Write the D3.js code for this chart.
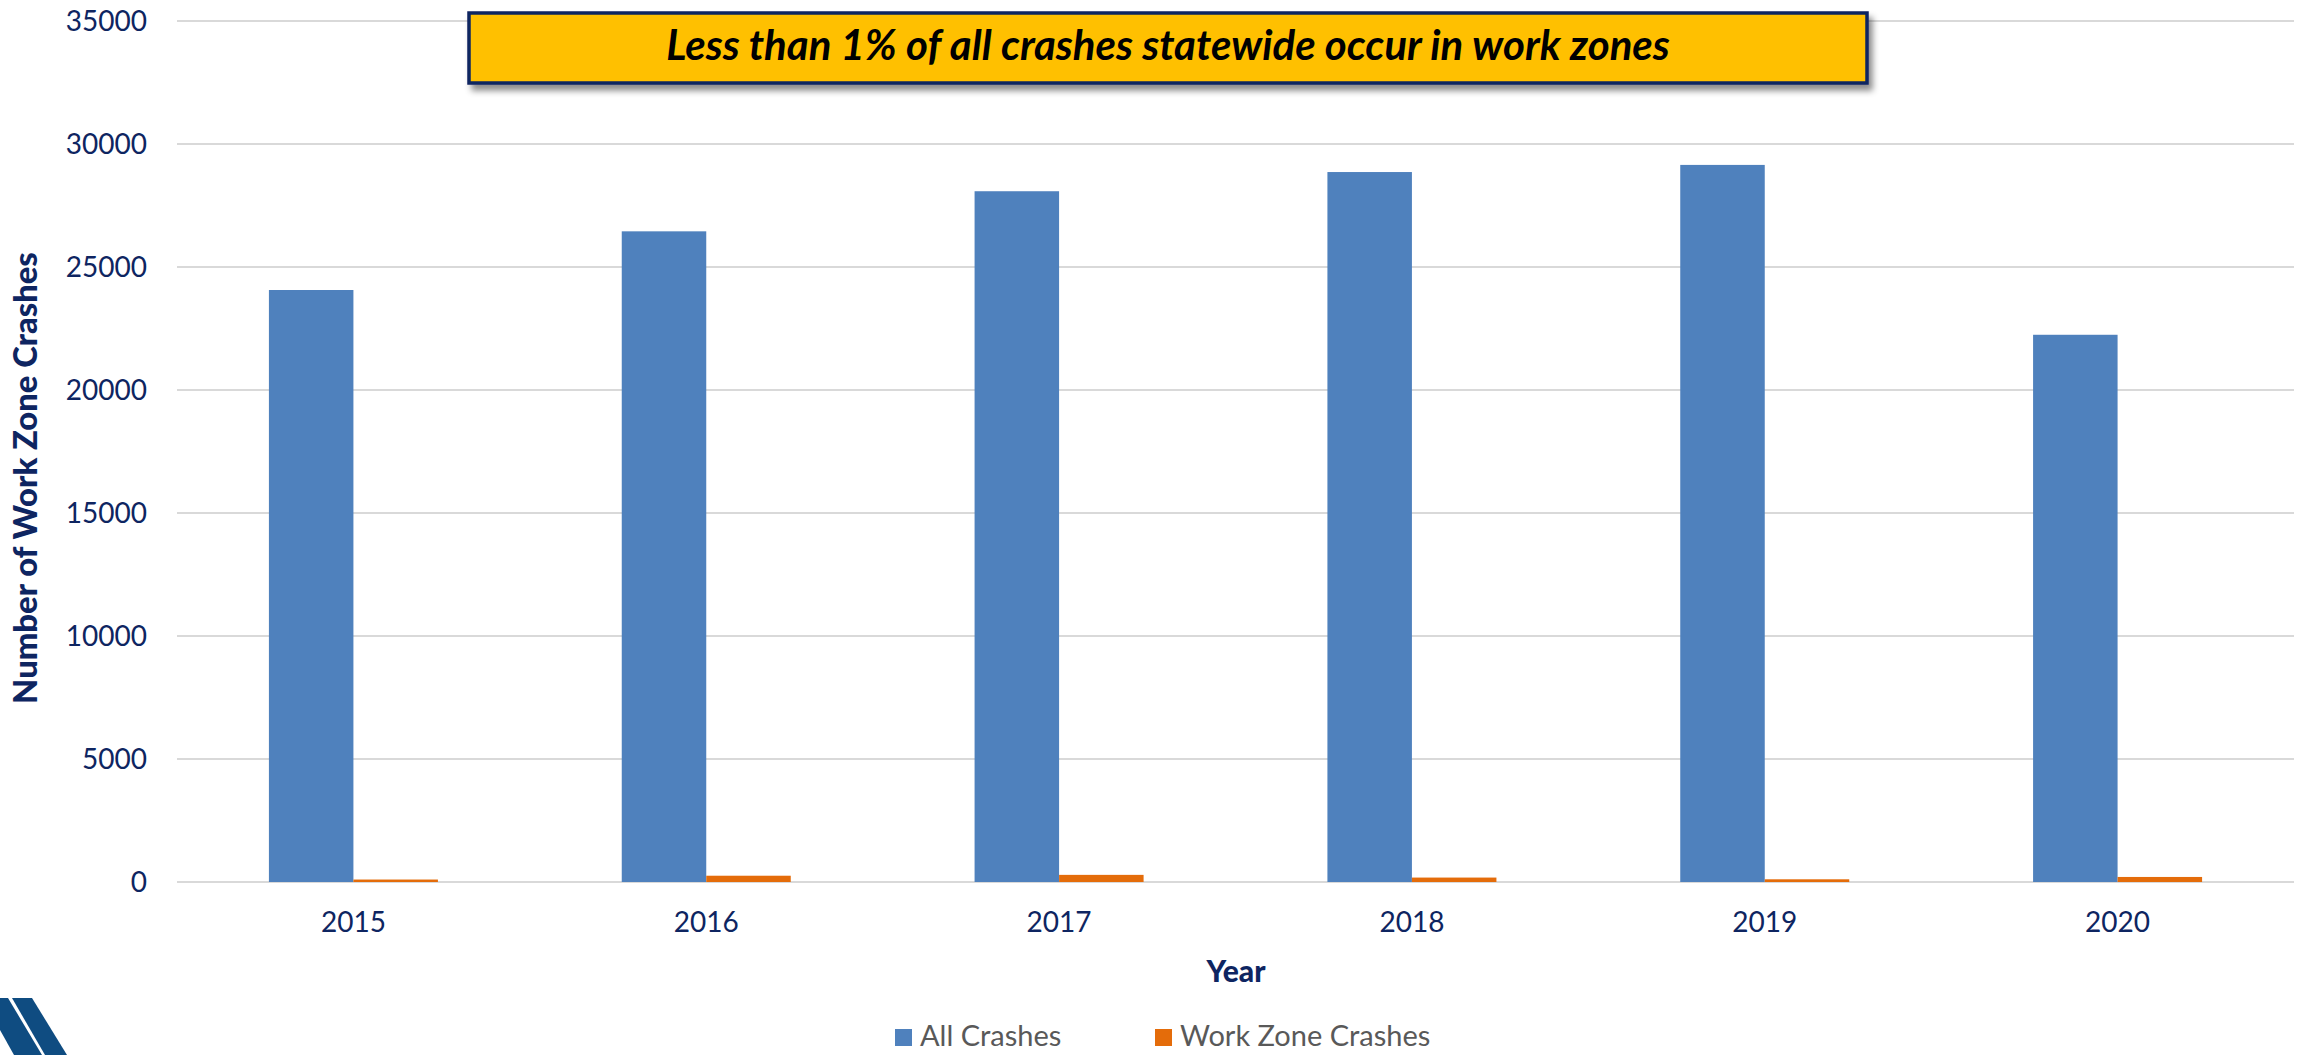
<!DOCTYPE html>
<html>
<head>
<meta charset="utf-8">
<script src="https://cdn.jsdelivr.net/npm/d3@7/dist/d3.min.js"></script>
<style>
  html, body { margin: 0; padding: 0; background: #fff; }
  svg { display: block; }
  text { font-family: Lato, "Open Sans", sans-serif; }
</style>
</head>
<body>
<svg id="chart" width="2307" height="1055"></svg>
<script>
// ---- Data ----
const years = ["2015", "2016", "2017", "2018", "2019", "2020"];
const allCrashes = [24065, 26450, 28080, 28860, 29150, 22245];
const workZoneCrashes = [100, 255, 290, 180, 110, 205];
const seriesNames = ["All Crashes", "Work Zone Crashes"];
const yTicks = [0, 5000, 10000, 15000, 20000, 25000, 30000, 35000];
const titleText = "Less than 1% of all crashes statewide occur in work zones";
const yTitle = "Number of Work Zone Crashes";
const xTitle = "Year";

const colors = ["#4F81BD", "#E46C0A"];
const navy = "#0E2561";

const svg = d3.select("#chart");
const m = { left: 177, right: 2294, top: 21, bottom: 882 };

const x = d3.scaleBand().domain(years).range([m.left, m.right])
  .paddingInner(0.521).paddingOuter(0.2605);
const xs = d3.scaleBand().domain(seriesNames).range([0, x.bandwidth()]).padding(0);
const y = d3.scaleLinear().domain([0, 35000]).range([m.bottom, m.top]);

// gridlines
svg.append("g").selectAll("line").data(yTicks).join("line")
  .attr("x1", m.left).attr("x2", m.right)
  .attr("y1", d => y(d)).attr("y2", d => y(d))
  .attr("stroke", "#D9D9D9").attr("stroke-width", 2);

// y axis labels
const yAxis = d3.axisLeft(y).tickValues(yTicks).tickSize(0).tickPadding(0).tickFormat(d3.format("d"));
const gy = svg.append("g").attr("transform", `translate(147,0)`).call(yAxis);
gy.select(".domain").remove();
gy.selectAll("text").attr("font-size", 28).attr("fill", navy)
  .attr("font-family", "Lato, sans-serif").attr("dy", "0.34em");

// x axis labels
const xAxis = d3.axisBottom(x).tickSize(0).tickPadding(0);
const gx = svg.append("g").attr("transform", `translate(0,${m.bottom})`).call(xAxis);
gx.select(".domain").remove();
gx.selectAll("text").attr("font-size", 28).attr("fill", navy)
  .attr("font-family", "Lato, sans-serif").attr("dy", null).attr("y", 50);

// bars
const rows = years.map((yr, i) => ({ yr, vals: [allCrashes[i], workZoneCrashes[i]] }));
const groups = svg.append("g").selectAll("g").data(rows).join("g")
  .attr("transform", d => `translate(${x(d.yr)},0)`);
groups.selectAll("rect").data(d => d.vals.map((v, k) => ({ v, k })))
  .join("rect")
  .attr("x", d => xs(seriesNames[d.k]))
  .attr("width", xs.bandwidth())
  .attr("y", d => y(d.v))
  .attr("height", d => y(0) - y(d.v))
  .attr("fill", d => colors[d.k]);

// axis titles
const yt = svg.append("text").text(yTitle)
  .attr("transform", `translate(37,478) rotate(-90)`)
  .attr("text-anchor", "middle").attr("font-weight", 900)
  .attr("font-size", 30).attr("fill", navy);
{
  const w = yt.node().getComputedTextLength();
  yt.attr("font-size", 30 * 452 / w);
}
svg.append("text").text(xTitle)
  .attr("x", 1236).attr("y", 982)
  .attr("text-anchor", "middle").attr("font-weight", 900)
  .attr("font-size", 30).attr("fill", navy);

// legend
const leg = svg.append("g");
const legX = [895, 1155];
seriesNames.forEach((s, i) => {
  leg.append("rect").attr("x", legX[i]).attr("y", 1029).attr("width", 17).attr("height", 17)
    .attr("fill", colors[i]);
  leg.append("text").text(s).attr("x", legX[i] + 25).attr("y", 1046)
    .attr("font-size", 29).attr("fill", "#595959");
});

// title box with shadow
const defs = svg.append("defs");
const f = defs.append("filter").attr("id", "sh").attr("x", "-5%").attr("y", "-30%")
  .attr("width", "115%").attr("height", "170%");
f.append("feDropShadow").attr("dx", 4).attr("dy", 6).attr("stdDeviation", 3)
  .attr("flood-color", "#000").attr("flood-opacity", 0.45);
svg.append("rect").attr("x", 469).attr("y", 13).attr("width", 1398).attr("height", 70)
  .attr("fill", "#FFC000").attr("stroke", navy).attr("stroke-width", 3.5)
  .attr("filter", "url(#sh)");
const tt = svg.append("text").text(titleText)
  .attr("x", 1168).attr("y", 60).attr("text-anchor", "middle")
  .attr("font-weight", 700).attr("font-style", "italic")
  .attr("font-size", 36).attr("fill", "#000");
{
  const w = tt.node().getComputedTextLength();
  tt.attr("font-size", 36 * 1004 / w);
}

// logo fragment bottom-left
const logo = svg.append("g").attr("fill", "#0F4C81");
logo.append("polygon").attr("points", "0,998 8,998 42,1055 0,1055");
logo.append("polygon").attr("points", "12,998 32,998 67,1055 45,1055");
logo.append("polygon").attr("points", "0,1030 0,1055 14,1055").attr("fill", "#fff");
</script>
</body>
</html>
